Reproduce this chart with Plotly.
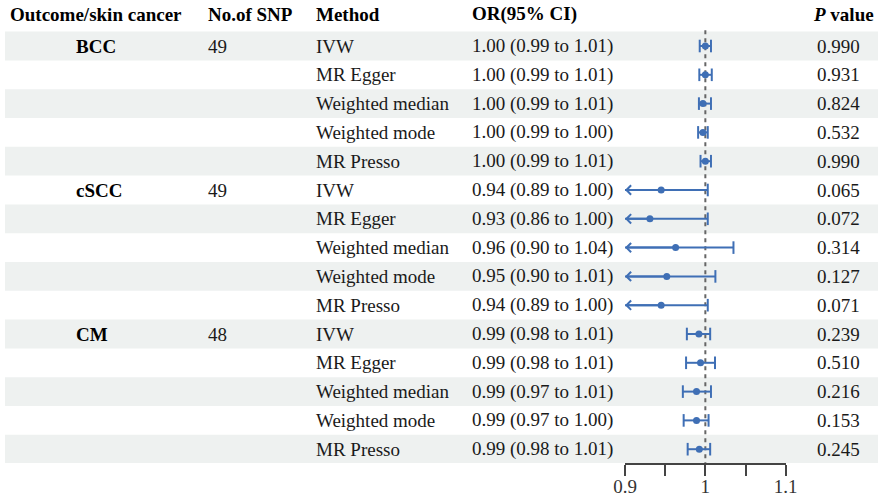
import plotly.graph_objects as go

# ---- data ----
groups = ["BCC", "cSCC", "CM"]
n_snp = [49, 49, 48]
methods = ["IVW", "MR Egger", "Weighted median", "Weighted mode", "MR Presso"]

or_text = [
    "1.00 (0.99 to 1.01)", "1.00 (0.99 to 1.01)", "1.00 (0.99 to 1.01)",
    "1.00 (0.99 to 1.00)", "1.00 (0.99 to 1.01)",
    "0.94 (0.89 to 1.00)", "0.93 (0.86 to 1.00)", "0.96 (0.90 to 1.04)",
    "0.95 (0.90 to 1.01)", "0.94 (0.89 to 1.00)",
    "0.99 (0.98 to 1.01)", "0.99 (0.98 to 1.01)", "0.99 (0.97 to 1.01)",
    "0.99 (0.97 to 1.00)", "0.99 (0.98 to 1.01)",
]
p_values = [
    "0.990", "0.931", "0.824", "0.532", "0.990",
    "0.065", "0.072", "0.314", "0.127", "0.071",
    "0.239", "0.510", "0.216", "0.153", "0.245",
]
est = [1.000, 1.000, 0.997, 0.997, 1.000,
       0.945, 0.931, 0.963, 0.952, 0.945,
       0.992, 0.994, 0.989, 0.989, 0.9925]
lo = [0.993, 0.9925, 0.992, 0.991, 0.994,
      0.890, 0.860, 0.898, 0.897, 0.890,
      0.977, 0.976, 0.972, 0.973, 0.978]
hi = [1.007, 1.008, 1.007, 1.003, 1.007,
      1.003, 1.003, 1.035, 1.0125, 1.003,
      1.006, 1.012, 1.007, 1.004, 1.006]

x_ticks = [0.9, 0.95, 1.0, 1.05, 1.1]
x_ticktext = ["0.9", "", "1", "", "1.1"]

# ---- styling ----
W, H = 886, 500
FONT = "Liberation Serif"
FS = 19
BLUE = "#3f6fb5"
BAND = "#eef1f0"
x_min, x_max = 0.9, 1.1

ROW0, ROW_H = 46, 28.8      # px of first row centre, row pitch
AXIS_Y = 463                # px of the x axis line


def px(x):
    return x / W


def row_of(y):
    return (y - ROW0) / ROW_H


rows = list(range(len(est)))
lo_c = [max(v, x_min) for v in lo]
clipped = [v < x_min for v in lo]

fig = go.Figure()

# CI lines
lx, ly = [], []
for r in rows:
    lx += [lo_c[r], hi[r], None]
    ly += [r, r, None]
fig.add_trace(go.Scatter(x=lx, y=ly, mode="lines",
                         line=dict(color=BLUE, width=2), hoverinfo="skip"))

# caps
cap_x = hi + [lo[r] for r in rows if not clipped[r]]
cap_y = rows + [r for r in rows if not clipped[r]]
fig.add_trace(go.Scatter(x=cap_x, y=cap_y, mode="markers",
                         marker=dict(symbol="line-ns", size=9,
                                     line=dict(color=BLUE, width=2)),
                         hoverinfo="skip"))

# point estimates
fig.add_trace(go.Scatter(x=est, y=rows, mode="markers",
                         marker=dict(symbol="circle", size=7, color=BLUE)))

shapes = []
for r in rows:
    if r % 2 == 0:
        shapes.append(dict(type="rect", xref="paper", yref="y",
                           x0=px(5), x1=px(878), y0=r - 0.5, y1=r + 0.5,
                           fillcolor=BAND, line=dict(width=0), layer="below"))

y_bottom = row_of(AXIS_Y)
y_top = row_of(0)
shapes.append(dict(type="line", xref="x", yref="y", x0=1, x1=1,
                   y0=-0.55, y1=y_bottom,
                   line=dict(color="#666666", width=2, dash="4px,4px"),
                   layer="below"))

ann = []


def txt(x_px, y, s, color="#1a1a1a"):
    ann.append(dict(x=px(x_px), y=y, xref="paper", yref="y", text=s,
                    showarrow=False, xanchor="left", yanchor="middle",
                    align="left", borderpad=0,
                    font=dict(family=FONT, size=FS, color=color)))


hy = row_of(14)
txt(9, hy, "<b>Outcome/skin cancer</b>", color="black")
txt(207, hy, "<b>No.of SNP</b>", color="black")
txt(315, hy, "<b>Method</b>", color="black")
txt(471, hy, "<b>OR(95% CI)</b>", color="black")
txt(812, hy, "<b><i>P</i> value</b>", color="black")

for g, name in enumerate(groups):
    r0 = g * len(methods)
    txt(75, r0, f"<b>{name}</b>", color="black")
    txt(207, r0, str(n_snp[g]))
for r in rows:
    txt(315, r, methods[r % len(methods)])
    txt(471, r, or_text[r])
    txt(816, r, p_values[r])

# arrows for intervals running past the axis
for r in rows:
    if clipped[r]:
        ann.append(dict(x=x_min, y=r, xref="x", yref="y",
                        ax=est[r], ay=r, axref="x", ayref="y",
                        showarrow=True, arrowhead=4, arrowsize=0.9,
                        arrowwidth=2, arrowcolor=BLUE, standoff=0, text=""))

fig.update_layout(
    width=W, height=H,
    margin=dict(l=0, r=0, t=0, b=0, autoexpand=False),
    paper_bgcolor="white", plot_bgcolor="rgba(0,0,0,0)",
    showlegend=False,
    shapes=shapes,
    annotations=ann,
    xaxis=dict(domain=[px(625), px(785.7)], range=[x_min, x_max],
               automargin=False,
               showgrid=False, zeroline=False, showline=True,
               linecolor="#444444", linewidth=1.5,
               ticks="outside", ticklen=11, tickwidth=1.5, tickcolor="#444444",
               ticklabelstandoff=-6,
               tickvals=x_ticks, ticktext=x_ticktext,
               tickfont=dict(family=FONT, size=FS, color="#333333"),
               fixedrange=True),
    yaxis=dict(domain=[(H - AXIS_Y) / H, 1],
               range=[y_bottom, y_top], automargin=False,
               visible=False, fixedrange=True),
)

# drop the default 8px page margin so the figure sits at the window corner
fig.write_html("out.html", config={"displayModeBar": False},
               post_script="document.body.style.margin='0';")
